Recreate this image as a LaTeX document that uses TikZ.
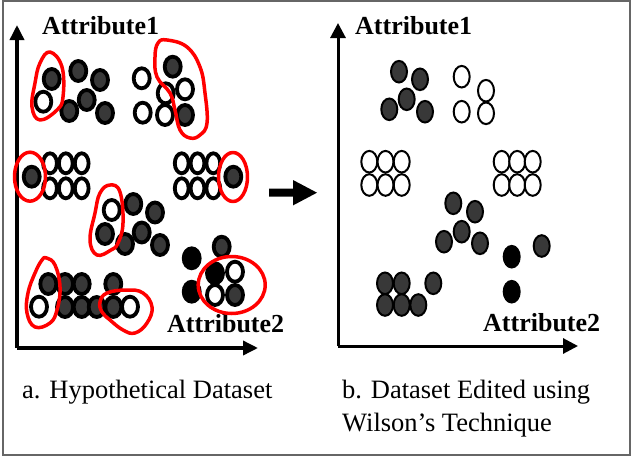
\documentclass[tikz,border=0pt]{standalone}
\usepackage{fontspec}
\setmainfont{Liberation Serif}
\usetikzlibrary{arrows.meta}
\definecolor{dk}{gray}{0.22}
\tikzset{
  axisline/.style={line width=3.5pt, -{Triangle[length=15pt,width=14pt]}},
  axislineR/.style={line width=3pt, -{Triangle[length=15pt,width=15pt]}},
  ldot/.style={draw=black, line width=3.8pt},
  rdot/.style={draw=black, line width=2pt},
  redloop/.style={draw=red, line width=3.5pt, line join=round},
  attr/.style={inner sep=0pt, anchor=base west, font=\fontsize{26}{30}\selectfont\bfseries},
  captxt/.style={inner sep=0pt, anchor=base west, font=\fontsize{26.5}{32}\selectfont},
}
\newcommand\LD[3]{\draw[ldot, fill=#3] (#1,#2) ellipse [x radius=8.0, y radius=10.0];}
\newcommand\LN[3]{\draw[ldot, fill=#3] (#1,#2) ellipse [x radius=6.9, y radius=10.0];}
\newcommand\RD[3]{\draw[rdot, fill=#3] (#1,#2) ellipse [x radius=8.0, y radius=10.8];}
\begin{document}
\begin{tikzpicture}[x=1pt,y=-1pt]
\useasboundingbox (0,0) rectangle (632,458);
\draw[draw=black!60, line width=1.5pt] (3,1) rectangle (630,455);

% ---------- left panel axes ----------
\coordinate (oL) at (17,348);
\coordinate (yL) at (17,25);
\coordinate (xL) at (258,348);
\draw[axisline] (oL) -- (yL);
\draw[axisline] (oL) -- (xL);
\node[attr] (a1L) at (42,34) {Attribute1};
\node[attr] (a2L) at (167,332.5) {Attribute2};

% top-left cluster
\LD{51.7}{79}{dk} \LD{43.3}{101.7}{white} \LD{78.3}{71}{dk} \LD{100}{80}{dk}
\LD{86.7}{100}{dk} \LD{69.3}{111}{dk} \LD{105}{113}{dk}
% top-right cluster
\LD{141.7}{78.3}{white} \LD{172.7}{66.7}{dk} \LD{165.7}{93.3}{white} \LD{185}{89.3}{white}
\LD{142.7}{112.7}{white} \LD{165}{115}{white} \LD{185}{115}{dk}
% middle-left row block
\LN{50}{163.3}{white} \LN{65.8}{163.3}{white} \LN{81.7}{163.3}{white}
\LN{50}{188.3}{white} \LN{65.8}{188.3}{white} \LN{81.7}{188.3}{white}
\LD{31.7}{176.7}{dk}
% middle-right row block
\LN{181.7}{163.3}{white} \LN{197.5}{163.3}{white} \LN{213.3}{163.3}{white}
\LN{181.7}{188.3}{white} \LN{197.5}{188.3}{white} \LN{213.3}{188.3}{white}
\LD{233.3}{176.7}{dk}
% middle cluster
\LD{111.7}{210}{white} \LD{133.3}{204}{dk} \LD{155}{212.5}{dk} \LD{105}{234}{dk}
\LD{141.7}{232.5}{dk} \LD{125}{244}{dk} \LD{160}{245}{dk}
% bottom-right group
\LD{221.7}{246.7}{dk} \LD{191.7}{258.3}{black} \LD{215}{273.3}{black} \LD{235}{271.7}{white}
\LD{191.7}{291.7}{black} \LD{215}{295}{white} \LD{235}{295}{dk}
% bottom-left group
\LD{48.3}{284}{dk} \LD{65}{284}{dk} \LD{81.7}{284}{dk} \LD{113.3}{284}{dk}
\LD{65}{307}{dk} \LD{81.7}{307}{dk} \LD{96.7}{307}{dk} \LD{113.3}{307}{dk}
\LD{39}{306.7}{white} \LD{130}{306.7}{white}

% red loops
\draw[redloop] plot[smooth cycle, tension=0.7] coordinates {(50,52) (62,67) (63,97) (57,110) (40,120) (32,107) (35,83) (40,63)};
\draw[redloop] plot[smooth cycle, tension=0.7] coordinates {(158,43) (167,40) (187,47) (200,67) (205,93) (207,123) (200,135) (190,138) (180,130) (175,110) (170,93) (157,77) (155,57)};
\draw[redloop] (30,176.7) ellipse [x radius=15.5, y radius=24.5];
\draw[redloop] (233,177) ellipse [x radius=14.5, y radius=24.5];
\draw[redloop] plot[smooth cycle, tension=0.7] coordinates {(110,185) (120,192) (123,223) (118,243) (111,250) (97,255) (90,240) (95,213) (100,193)};
\draw[redloop] (231.7,285) ellipse [x radius=33.5, y radius=28.5];
\draw[redloop] plot[smooth cycle, tension=0.7] coordinates {(46.7,258) (55,265) (60,287) (57,310) (50,323) (35,327) (27,313) (28,293) (35,273) (42,260)};
\draw[redloop] plot[smooth cycle, tension=0.7] coordinates {(100,302) (107,293) (127,290) (143,293) (152,307) (147,323) (135,333) (123,330) (110,320) (102,312)};

% ---------- middle arrow ----------
\fill[black] (269,188.7) -- (293,188.7) -- (293,180) -- (317,192.7) -- (293,205.4) -- (293,196.7) -- (269,196.7) -- cycle;

% ---------- right panel axes ----------
\coordinate (oR) at (338,346);
\coordinate (yR) at (338,23);
\coordinate (xR) at (578,346);
\draw[axislineR] (oR) -- (yR);
\draw[axislineR] (oR) -- (xR);
\node[attr] (a1R) at (355,34) {Attribute1};
\node[attr] (a2R) at (483,331.7) {Attribute2};

% right dots
\RD{399}{71.7}{dk} \RD{420}{79.3}{dk} \RD{406.7}{99.3}{dk} \RD{389.3}{109.3}{dk} \RD{425}{111.7}{dk}
\RD{461.7}{76.7}{white} \RD{486}{90.7}{white} \RD{461.7}{111.7}{white} \RD{486}{113.3}{white}
\RD{369.3}{161.7}{white} \RD{385.5}{161.7}{white} \RD{401.7}{161.7}{white}
\RD{369.3}{185}{white} \RD{385.5}{185}{white} \RD{401.7}{185}{white}
\RD{501.7}{161.7}{white} \RD{517.2}{161.7}{white} \RD{532.7}{161.7}{white}
\RD{501.7}{185}{white} \RD{517.2}{185}{white} \RD{532.7}{185}{white}
\RD{453.3}{203.3}{dk} \RD{475}{211.7}{dk} \RD{461.7}{231.7}{dk} \RD{444}{241.7}{dk} \RD{480}{243.3}{dk}
\RD{511.7}{256.7}{black} \RD{511.7}{291.7}{black} \RD{541.7}{246}{dk}
\RD{385}{283.3}{dk} \RD{401.7}{283.3}{dk} \RD{433.3}{283.3}{dk}
\RD{385}{305}{dk} \RD{401.7}{305}{dk} \RD{418.3}{305}{dk}

% ---------- captions ----------
\node[captxt] (capA) at (22,398) {a. Hypothetical Dataset};
\node[captxt] (capB1) at (342,398) {b. Dataset Edited using};
\node[captxt] (capB2) at (342,431) {Wilson’s Technique};
\end{tikzpicture}
\end{document}
